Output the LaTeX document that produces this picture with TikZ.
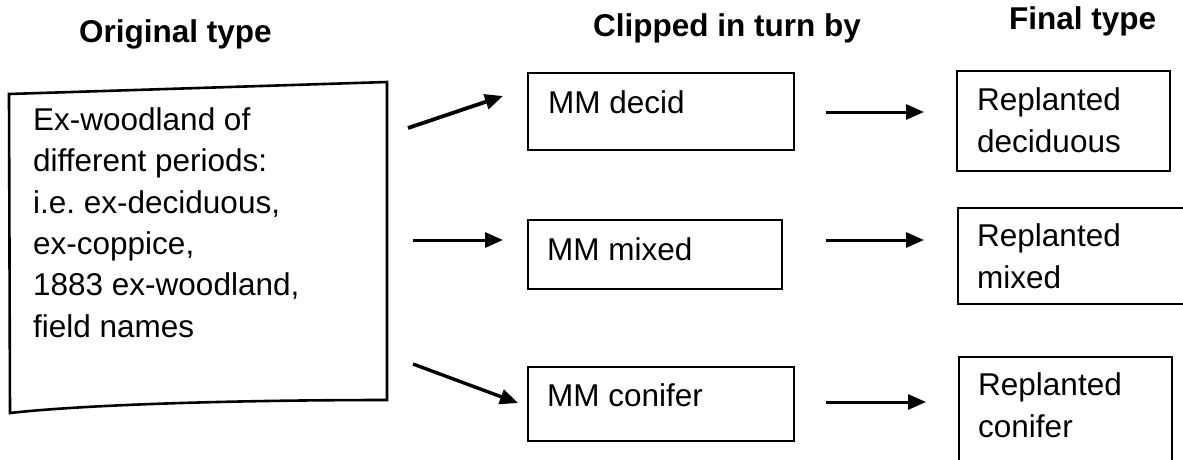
\documentclass[tikz,border=0pt]{standalone}
\usepackage{fontspec}
\setmainfont{Liberation Sans}
\usetikzlibrary{arrows.meta}
\frenchspacing
\begin{document}
\begin{tikzpicture}[x=1pt,y=-1pt,
  box/.style={draw=black,line width=2.4pt,inner sep=0pt,anchor=north west},
  txt/.style={inner sep=0pt,anchor=base west,align=left,font=\fontsize{31.5}{41.3}\selectfont},
  ttl/.style={inner sep=0pt,anchor=base west,font=\fontsize{31.5}{38}\selectfont\bfseries},
  arr/.style={line width=3pt,-{Triangle[length=18pt,width=15pt]}}]
\clip (0,0) rectangle (1183,459);
\fill[white] (0,0) rectangle (1183,459);
% titles
\node[ttl] (h1) at (79,42) {Original type};
\node[ttl] (h2) at (593,36) {Clipped in turn by};
\node[ttl] (h3) at (1009,29) {Final type};
% left document shape
\coordinate (o1) at (9,94);
\coordinate (o2) at (387,82);
\coordinate (o3) at (387,400);
\coordinate (o4) at (10,413);
\draw[line width=2.6pt,line join=miter] (o1) -- (o2) -- (o3) .. controls (250,400) and (90,404) .. (o4) -- cycle;
% (base anchor of a multi-line node = baseline of its last line)
\node[txt] (orig) at (33,337) {Ex-woodland of\\different periods:\\i.e. ex-deciduous,\\ex-coppice,\\1883 ex-woodland,\\field names};
% middle boxes
\node[box,minimum width=266pt,minimum height=77pt] (m1) at (527,72) {};
\node[txt] (m1t) at (548,113) {MM decid};
\node[box,minimum width=254pt,minimum height=69pt] (m2) at (527,219) {};
\node[txt] (m2t) at (547,260) {MM mixed};
\node[box,minimum width=266pt,minimum height=74pt] (m3) at (527,366) {};
\node[txt] (m3t) at (547,406) {MM conifer};
% final boxes
\node[box,minimum width=213pt,minimum height=100pt] (f1) at (956,70) {};
\node[txt] (f1t) at (977,152) {Replanted\\deciduous};
\node[box,minimum width=240pt,minimum height=96pt] (f2) at (957,207) {};
\node[txt] (f2t) at (977,288) {Replanted\\mixed};
\node[box,minimum width=213pt,minimum height=120pt] (f3) at (958,356) {};
\node[txt] (f3t) at (978,437) {Replanted\\conifer};
% arrow ends
\coordinate (a1s) at (408,128); \coordinate (a1e) at (503,96);
\coordinate (a2s) at (413,240); \coordinate (a2e) at (503,240);
\coordinate (a3s) at (413,364); \coordinate (a3e) at (518,403);
\coordinate (b1s) at (826,112); \coordinate (b1e) at (924,112);
\coordinate (b2s) at (826,240); \coordinate (b2e) at (924,240);
\coordinate (b3s) at (826,402); \coordinate (b3e) at (926,402);
\draw[arr,line width=3.8pt] (a1s) -- (a1e);
\draw[arr] (a2s) -- (a2e);
\draw[arr,line width=3.4pt] (a3s) -- (a3e);
\draw[arr] (b1s) -- (b1e);
\draw[arr] (b2s) -- (b2e);
\draw[arr] (b3s) -- (b3e);
\end{tikzpicture}
\end{document}
